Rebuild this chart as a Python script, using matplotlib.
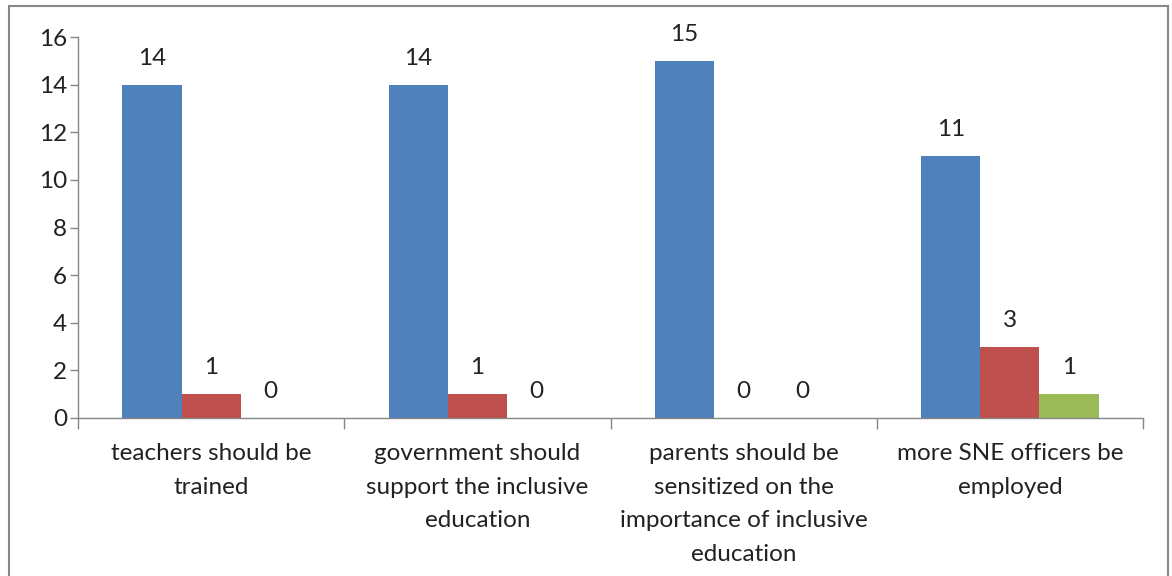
import matplotlib
matplotlib.use("Agg")
import matplotlib.pyplot as plt
from matplotlib.patches import Rectangle
import numpy as np

categories = ["teachers should be\ntrained",
              "government should\nsupport the inclusive\neducation",
              "parents should be\nsensitized on the\nimportance of inclusive\neducation",
              "more SNE officers be\nemployed"]
series_a = [14, 14, 15, 11]
series_b = [1, 1, 0, 3]
series_c = [0, 0, 0, 1]
yticks = [0, 2, 4, 6, 8, 10, 12, 14, 16]

colors = ["#4F81BD", "#C0504D", "#9BBB59"]
plt.rcParams['font.family'] = ['Lato', 'DejaVu Sans']

fig = plt.figure(figsize=(11.72, 5.76), dpi=100)
ax = fig.add_axes([78/1172, 1-418/576, (1143-78)/1172, (418-37)/576])

x = np.arange(len(categories))
w = 0.222
gray = "#868686"
fs = 17.5
for i, (vals, c) in enumerate(zip([series_a, series_b, series_c], colors)):
    pos = x + (i - 1) * w
    ax.bar(pos, vals, width=w, color=c, zorder=2)
    for p, v in zip(pos, vals):
        ax.annotate(str(v), (p, v), xytext=(0, 11.5), textcoords="offset points",
                    ha="center", va="bottom", fontsize=fs, color="#222222")

ax.set_xlim(-0.5, len(categories) - 0.5)
ax.set_ylim(0, 16)
ax.set_yticks(yticks)
ax.set_yticklabels([str(t) for t in yticks], fontsize=fs)
ax.set_xticks(np.arange(len(categories) + 1) - 0.5)
ax.set_xticklabels([])
ax.tick_params(axis="y", length=6, color=gray, width=1, pad=2, labelcolor="#222222")
ax.tick_params(axis="x", length=8, color=gray, width=1)
for s in ["top", "right"]:
    ax.spines[s].set_visible(False)
for s in ["left", "bottom"]:
    ax.spines[s].set_color(gray)
    ax.spines[s].set_linewidth(1)

for xi, lab in zip(x, categories):
    ax.text(xi, -1.05, lab, ha="center", va="top", fontsize=fs,
            color="#222222", linespacing=1.74,
            transform=ax.transData)

fig.patches.append(Rectangle((9/1172, -0.05), (1168-9)/1172, 1-6/576+0.05,
                             transform=fig.transFigure, fill=False,
                             edgecolor="#888888", linewidth=1.5))

fig.savefig("out.png", dpi=100)
